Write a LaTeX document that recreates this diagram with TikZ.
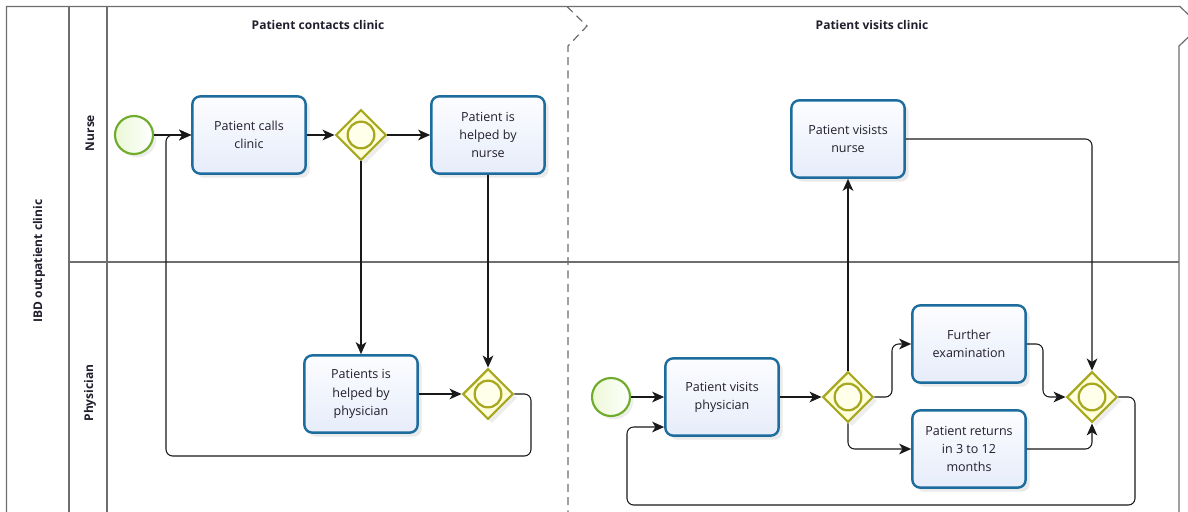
\documentclass[tikz,border=0pt]{standalone}
\usepackage{fontspec}
\setmainfont{Open Sans}
\usetikzlibrary{shapes.geometric,arrows.meta,shadows,calc}

\definecolor{taskline}{RGB}{28,108,158}
\definecolor{tasktop}{RGB}{252,253,255}
\definecolor{taskbot}{RGB}{230,236,250}
\definecolor{gwline}{RGB}{168,168,32}
\definecolor{gwfill}{RGB}{255,255,220}
\definecolor{evline}{RGB}{112,172,44}
\definecolor{evfill}{RGB}{236,248,214}
\definecolor{frameline}{RGB}{110,110,110}
\definecolor{txt}{RGB}{35,30,45}

\begin{document}
\begin{tikzpicture}[x=0.75pt,y=-0.75pt,
  every node/.style={text=txt},
  task/.style={draw=taskline, line width=1.8pt, rounded corners=6pt,
    minimum width=85pt, minimum height=58pt, align=center,
    top color=tasktop, bottom color=taskbot,
    drop shadow={opacity=0.16, shadow xshift=3pt, shadow yshift=-3pt},
    font=\fontsize{9.4}{13.6}\selectfont},
  gateway/.style={diamond, draw=gwline, line width=1.7pt, fill=gwfill,
    inner sep=0pt, minimum width=38pt, minimum height=38pt,
    drop shadow={opacity=0.14, shadow xshift=3pt, shadow yshift=-3pt},
    path picture={\draw[gwline, line width=1.7pt, fill=white!40!gwfill]
      (path picture bounding box.center) circle (10pt);}},
  startev/.style={circle, draw=evline, line width=1.6pt,
    inner sep=0pt, minimum size=28.5pt,
    left color=evfill, right color=white,
    drop shadow={opacity=0.14, shadow xshift=2.5pt, shadow yshift=-2.5pt}},
  flow/.style={draw=black!90, line width=0.8pt, rounded corners=5pt,
    -{Stealth[length=9pt,width=8pt,inset=2.5pt]}},
  frame/.style={draw=frameline, line width=0.9pt},
  phase/.style={font=\bfseries\fontsize{9}{11}\selectfont},
  lanelabel/.style={font=\bfseries\fontsize{9}{11}\selectfont, rotate=90}]

\useasboundingbox (0,0) rectangle (1188,511);
\clip (0,0) rectangle (1188,511);
\fill[white] (0,0) rectangle (1188,511);

% pool and lanes
\draw[frame] (6.5,520) -- (6.5,6.5) -- (1180,6.5) -- (1200,26) -- (1179,46) -- (1179,520);
\draw[frame] (69,6.5) -- (69,520);
\draw[frame] (107,6.5) -- (107,520);
\draw[frame] (69,262) -- (1179,262);
\draw[draw=frameline, line width=0.9pt, dash pattern=on 6pt off 4pt]
  (567,6.5) -- (587,26) -- (568,46) -- (568,520);

\node[lanelabel] (pool) at (39,261) {IBD outpatient clinic};
\node[lanelabel] (lnurse) at (90,133) {Nurse};
\node[lanelabel] (lphys) at (90,393) {Physician};

\node[phase] (ph1) at (318,25) {Patient contacts clinic};
\node[phase] (ph2) at (872,25) {Patient visits clinic};

% phase 1: patient contacts clinic
\node[startev] (s1) at (134,135) {};
\node[task] (t1) at (249,135) {Patient calls\\clinic};
\node[gateway] (g1) at (361,135) {};
\node[task] (t2) at (488,135) {Patient is\\helped by\\nurse};
\node[task] (t3) at (361,394) {Patients is\\helped by\\physician};
\node[gateway] (g2) at (488,394) {};

\draw[flow] (s1) -- (t1);
\draw[flow] (t1) -- (g1);
\draw[flow] (g1) -- (t2);
\draw[flow] (g1.south) -- (t3.north);
\draw[flow] (t2.south) -- (g2.north);
\draw[flow] (t3) -- (g2);
\draw[flow] (g2.east) -- (531,394) -- (531,456) -- (166,456) -- (166,135) -- (t1.west);

% phase 2: patient visits clinic
\node[startev] (s2) at (611,397) {};
\node[task] (t4) at (722,397) {Patient visits\\physician};
\node[gateway] (g3) at (848,397) {};
\node[task] (t5) at (848,139) {Patient visists\\nurse};
\node[task] (t6) at (969,344) {Further\\examination};
\node[task] (t7) at (969,449) {Patient returns\\in 3 to 12\\months};
\node[gateway] (g4) at (1092,397) {};

\draw[flow] (s2) -- (t4);
\draw[flow] (t4) -- (g3);
\draw[flow] (g3.north) -- (t5.south);
\draw[flow] (g3.east) -- (892,397) -- (892,344) -- (t6.west);
\draw[flow] (g3.south) |- (t7.west);
\draw[flow] (t6.east) -- (1043,344) -- (1043,397) -- (g4.west);
\draw[flow] (t7.east) -| (g4.south);
\draw[flow] (t5.east) -| (g4.north);
\draw[flow] (g4.east) -- (1135,397) -- (1135,505) -- (627,505) -- (627,427) -- ([yshift=-22.5pt]t4.west);

\end{tikzpicture}
\end{document}
